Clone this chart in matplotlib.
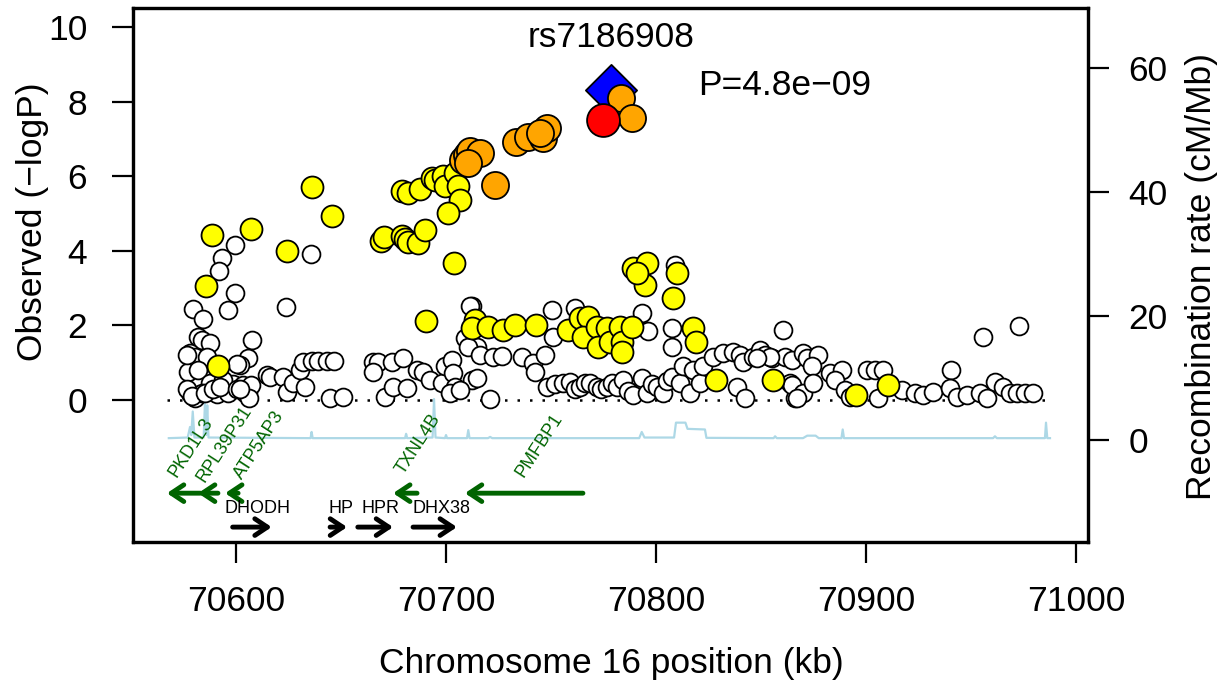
import matplotlib
matplotlib.use("Agg")
import matplotlib.pyplot as plt
import numpy as np

plt.rcParams['font.family'] = ['Liberation Sans', 'DejaVu Sans']

# ---------------- data ----------------
# LD r2 < 0.2 (white)
white_pos = [70599.5, 70593.2, 70592.0, 70635.7, 70599.5, 70579.4, 70584.1, 70596.0, 70623.8,
             70581.9, 70583.6, 70587.6, 70607.5, 70578.1, 70580.5, 70586.0, 70605.9, 70601.9,
             70577.3, 70582.0, 70587.6, 70598.7, 70603.5, 70605.9, 70578.1, 70580.5, 70583.6,
             70590.8, 70596.3, 70604.3, 70614.6, 70616.2, 70622.5, 70624.1, 70627.3, 70632.9,
             70630.5, 70632.1, 70636.0, 70639.2, 70643.2, 70646.7, 70644.8, 70651.1, 70665.4,
             70667.8, 70674.1, 70679.7, 70665.4, 70671.0, 70674.9, 70681.3, 70686.0, 70689.2,
             70692.4, 70698.0, 70699.5, 70702.7, 70703.5, 70704.3, 70701.9, 70712.2, 70712.2,
             70714.6, 70576.5, 70576.9, 70579.0, 70585.0, 70589.0, 70594.0, 70592.5, 70600.5,
             70607.0, 70606.0, 70602.0, 70600.3,
             70711.4, 70709.0, 70710.6, 70716.2, 70722.5, 70726.5, 70736.0, 70741.6, 70747.1,
             70742.4, 70706.7, 70714.6, 70721.0, 70750.3, 70751.1, 70761.4, 70793.2, 70796.3,
             70809.0, 70807.5, 70807.5,
             70747.9, 70752.0, 70755.9, 70759.0, 70761.5, 70763.8, 70766.0, 70768.6, 70771.7,
             70774.0, 70776.5, 70779.0, 70781.3, 70784.4, 70786.5, 70789.2, 70793.2, 70795.6,
             70798.0, 70800.3, 70803.5, 70805.0, 70807.5, 70811.4, 70813.0, 70816.2, 70817.8,
             70821.0, 70822.6, 70827.3, 70832.1, 70836.8, 70840.0, 70841.6, 70838.4, 70842.4,
             70846.3, 70849.5, 70851.9, 70855.1, 70861.4, 70863.8, 70866.2, 70860.6,
             70854.3, 70848.0, 70864.6, 70869.8, 70872.0, 70877.3, 70874.1, 70882.9, 70888.4,
             70885.2, 70864.6, 70870.2, 70867.0, 70874.9, 70900.3, 70904.3, 70907.9, 70890.0,
             70892.4, 70905.8, 70916.9, 70923.3, 70927.3, 70932.1, 70940.5, 70940.0, 70943.2,
             70947.9, 70954.3, 70961.4, 70965.4, 70968.6, 70971.8, 70975.7, 70979.4, 70955.9,
             70972.9, 70957.5]
white_logp = [4.17, 3.81, 3.45, 3.92, 2.88, 2.44, 2.17, 2.42, 2.49,
              1.70, 1.61, 1.52, 1.61, 1.25, 1.16, 1.16, 1.12, 0.94,
              0.76, 0.81, 0.45, 0.43, 0.40, 0.22, 0.18, 0.05, 0.18,
              0.16, 0.18, 0.18, 0.67, 0.63, 0.63, 0.22, 0.45, 0.36,
              0.81, 1.03, 1.06, 1.06, 1.06, 1.06, 0.05, 0.09, 1.03,
              1.03, 1.03, 1.12, 0.76, 0.09, 0.36, 0.31, 0.81, 0.76,
              0.54, 0.45, 0.90, 1.08, 0.72, 0.36, 0.18, 2.51, 0.54,
              1.43, 1.20, 0.30, 0.10, 0.20, 0.30, 0.55, 0.35, 0.30,
              0.40, 0.05, 0.30, 0.98,
              2.51, 1.66, 1.43, 1.21, 1.16, 1.18, 1.16, 0.99, 1.21,
              0.76, 0.27, 0.58, 0.02, 2.42, 1.70, 2.46, 2.33, 1.84,
              3.63, 1.93, 1.43,
              0.36, 0.42, 0.45, 0.49, 0.30, 0.36, 0.47, 0.45, 0.36,
              0.30, 0.36, 0.45, 0.36, 0.54, 0.25, 0.13, 0.58, 0.18,
              0.42, 0.36, 0.18, 0.50, 0.63, 0.45, 0.90, 0.18, 0.81,
              0.45, 0.90, 1.16, 1.25, 1.30, 1.21, 1.03, 0.36, 0.05,
              1.16, 1.34, 1.21, 1.12, 1.16, 0.45, 0.05, 1.88,
              1.16, 1.12, 1.08, 1.25, 1.12, 1.21, 0.90, 0.72, 0.81,
              0.54, 0.40, 0.18, 0.05, 0.45, 0.81, 0.81, 0.81, 0.27,
              0.09, 0.05, 0.27, 0.18, 0.13, 0.22, 0.81, 0.31, 0.09,
              0.13, 0.18, 0.49, 0.36, 0.18, 0.18, 0.18, 0.20, 1.70,
              1.99, 0.05]

# LD 0.2 - 0.5 (yellow)
yellow_pos = [70588.4, 70607.1, 70624.1, 70636.0, 70645.9, 70585.7, 70591.6, 70690.5, 70703.8,
              70668.9, 70670.5, 70678.9, 70680.5, 70682.1, 70686.8, 70690.0,
              70678.9, 70682.1, 70687.6, 70693.2, 70694.8, 70698.7, 70699.5, 70704.3, 70705.9,
              70706.7, 70701.1,
              70713.8, 70712.2, 70720.1, 70727.3, 70732.9, 70742.9, 70758.2, 70763.8, 70767.8,
              70765.4, 70771.7, 70772.5, 70776.5, 70778.1, 70782.9, 70783.7, 70783.7, 70788.4,
              70789.2, 70795.6, 70794.8, 70790.8, 70809.8, 70808.2, 70817.7, 70819.0, 70828.6,
              70855.9, 70895.2, 70910.6]
yellow_logp = [4.44, 4.59, 4.01, 5.72, 4.93, 3.06, 0.91, 2.13, 3.67,
               4.28, 4.37, 4.41, 4.32, 4.23, 4.21, 4.57,
               5.60, 5.55, 5.66, 5.95, 5.91, 6.00, 5.73, 6.09, 5.73,
               5.37, 5.01,
               2.15, 1.93, 1.97, 1.88, 2.02, 2.02, 1.88, 2.20, 2.22,
               1.70, 1.97, 1.43, 1.93, 1.57, 1.97, 1.57, 1.30, 1.95,
               3.54, 3.67, 3.09, 3.41, 3.41, 2.73, 1.93, 1.57, 0.54,
               0.54, 0.13, 0.40]

# LD 0.5 - 0.8 (orange)
orange_pos = [70708.3, 70709.9, 70711.4, 70716.2, 70710.6, 70723.3, 70733.3, 70739.2, 70746.3,
              70747.9, 70744.8, 70783.3, 70788.7]
orange_logp = [6.44, 6.58, 6.67, 6.64, 6.35, 5.77, 6.93, 7.07, 7.03,
               7.29, 7.16, 8.10, 7.56]

# LD 0.8 - 1 (red)
red_pos = [70774.9]
red_logp = [7.52]

# index SNP
top_snp = "rs7186908"
top_pos = 70778.6
top_logp = 8.32
top_p_label = "P=4.8e\u221209"

# recombination rate (cM/Mb)
rec_pos = [70568, 70577, 70578.1, 70578.7, 70579.4, 70580.2, 70584.6, 70585.2, 70585.8, 70586.3,
           70586.9, 70635.5, 70636.0, 70636.5, 70680.5, 70681.0, 70681.5, 70693.6, 70694.3,
           70695.0, 70699.5, 70700.0, 70700.5, 70710.0, 70710.6, 70711.2, 70720.0, 70721.0,
           70722.0, 70792.0, 70793.2, 70794.5, 70808.6, 70809.5, 70814.0, 70815.0, 70823.3,
           70824.0, 70856.0, 70856.7, 70857.5, 70870.0, 70872.0, 70876.0, 70877.5, 70888.3,
           70888.9, 70889.5, 70960.5, 70961.4, 70962.3, 70985.2, 70985.7, 70986.3, 70987.6]
rec_rate = [0.3, 0.4, 2.1, 0.8, 4.6, 0.4, 0.4, 5.9, 0.8, 5.6,
            0.4, 0.3, 1.3, 0.3, 0.3, 1.0, 0.3, 0.4, 6.6,
            0.4, 0.3, 0.8, 0.3, 0.3, 1.6, 0.3, 0.3, 0.5,
            0.3, 0.3, 1.3, 0.4, 0.4, 2.8, 2.8, 1.8, 1.7,
            0.35, 0.3, 0.6, 0.3, 0.3, 0.7, 0.7, 0.3, 0.3,
            1.7, 0.3, 0.3, 0.6, 0.3, 0.3, 2.8, 0.3, 0.3]

# genes: name, start, end, strand
gene_names = ["PKD1L3", "RPL39P31", "ATP5AP3", "TXNL4B", "PMFBP1",
              "DHODH", "HP", "HPR", "DHX38"]
gene_start = [70567.1, 70581.9, 70594.8, 70674.8, 70709.0,
              70598.4, 70644.8, 70658.0, 70684.3]
gene_end = [70583.0, 70591.4, 70601.0, 70686.2, 70765.2,
            70617.0, 70652.9, 70674.8, 70705.2]
gene_strand = ["-", "-", "-", "-", "-", "+", "+", "+", "+"]

x_ticks = [70600, 70700, 70800, 70900, 71000]
y_ticks = [0, 2, 4, 6, 8, 10]
rec_ticks = [0, 20, 40, 60]

# ---------------- figure ----------------
W, H = 1226, 693
fig = plt.figure(figsize=(W / 100, H / 100), dpi=100)
ax = fig.add_axes([133 / W, 1 - 542 / H, (1088 - 133) / W, (542 - 8) / H])
ax2 = ax.twinx()
ax.set_zorder(ax2.get_zorder() + 1)
ax.patch.set_visible(False)

FS = 25.5

# recombination
ax2.plot(rec_pos, rec_rate, color='#ADD8E6', lw=1.6, zorder=1)
ax2.set_ylim(-16.45, 69.68)
ax2.set_yticks(rec_ticks)
ax2.tick_params(axis='y', labelsize=FS, length=15, width=1.6, pad=14)

# zero line
ax.plot([70567, 70988], [0, 0], color='black', lw=1.8, linestyle=(0, (1, 4)), zorder=2)

ec = 'black'
ax.scatter(white_pos, white_logp, s=165, facecolor='white', edgecolor=ec, linewidth=1.3, zorder=3)
ax.scatter(yellow_pos, yellow_logp, s=250, facecolor='#FFFF00', edgecolor=ec, linewidth=1.3, zorder=4)
ax.scatter([top_pos], [top_logp], s=680, marker='D', facecolor='#0000FF', edgecolor=ec,
           linewidth=1.3, zorder=4.5)
ax.scatter(orange_pos, orange_logp, s=380, facecolor='#FFA500', edgecolor=ec, linewidth=1.3, zorder=5)
ax.scatter(red_pos, red_logp, s=560, facecolor='#FF0000', edgecolor=ec, linewidth=1.3, zorder=6)

ax.text(top_pos, 9.72, top_snp, ha='center', va='center', fontsize=FS)
ax.text(70820, 8.43, top_p_label, ha='left', va='center', fontsize=FS)

# genes
green = '#006400'
label_pos = {"PKD1L3": (70571.9, -2.10), "RPL39P31": (70585.2, -2.24),
             "ATP5AP3": (70602.7, -2.15), "TXNL4B": (70679.7, -2.01),
             "PMFBP1": (70736.8, -2.10)}
plus_label_x = {"DHODH": 70610.3, "HP": 70649.8, "HPR": 70668.6, "DHX38": 70697.9}
for name, s, e, strand in zip(gene_names, gene_start, gene_end, gene_strand):
    if strand == '-':
        yv = -2.50
        ax.annotate('', xy=(s, yv), xytext=(e, yv),
                    arrowprops=dict(arrowstyle='->,head_length=0.45,head_width=0.3',
                                    color=green, lw=3.5, shrinkA=0, shrinkB=0,
                                    mutation_scale=20), zorder=3)
        lx, ly = label_pos[name]
        ax.text(lx, ly, name, rotation=57, rotation_mode='anchor', ha='left',
                va='baseline', color=green, fontsize=13)
    else:
        yv = -3.41
        ax.annotate('', xy=(e, yv), xytext=(s, yv),
                    arrowprops=dict(arrowstyle='->,head_length=0.45,head_width=0.3',
                                    color='black', lw=3.5, shrinkA=0, shrinkB=0,
                                    mutation_scale=20), zorder=3)
        ax.text(plus_label_x[name], -3.04, name, ha='center', va='baseline',
                color='black', fontsize=13)

ax.set_xlim(70550.95, 71005.7)
ax.set_ylim(-3.81, 10.52)
ax.set_xticks(x_ticks)
ax.set_xticklabels([str(t) for t in x_ticks])
ax.set_yticks(y_ticks)
ax.tick_params(axis='both', labelsize=FS, length=15, width=1.6)
ax.tick_params(axis='x', pad=16)
ax.tick_params(axis='y', pad=18)
for sp in ax.spines.values():
    sp.set_linewidth(2.3)
for sp in ax2.spines.values():
    sp.set_linewidth(2.3)

fig.text(32.6 / W, 1 - 222 / H, "Observed (\u2212logP)", rotation=90, ha='center', va='center', fontsize=FS)
fig.text(1202 / W, 1 - 276 / H, "Recombination rate (cM/Mb)", rotation=90, ha='center', va='center', fontsize=FS)
fig.text(611 / W, 1 - 664 / H, "Chromosome 16 position (kb)", ha='center', va='center', fontsize=FS)

fig.savefig("out.png", dpi=100)
